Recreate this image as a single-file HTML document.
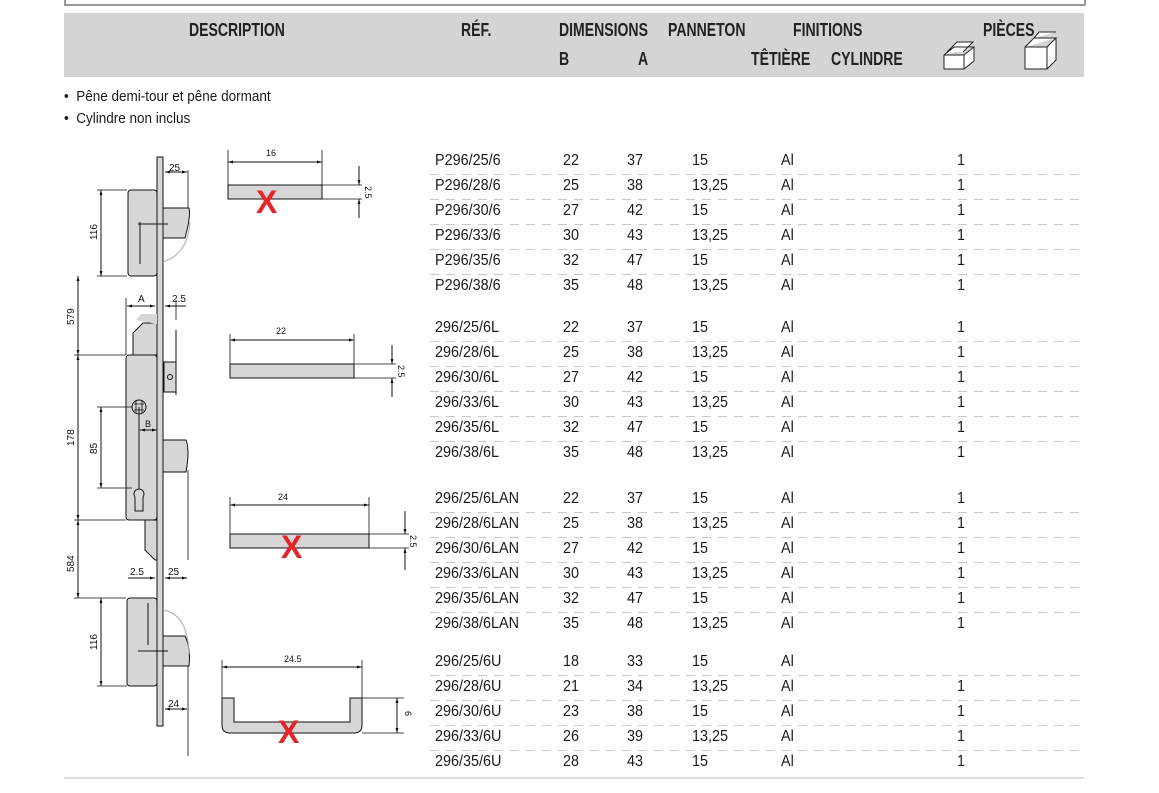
<!DOCTYPE html>
<html><head><meta charset="utf-8"><style>
body{margin:0;background:#fff;width:1159px;height:793px;overflow:hidden;position:relative;font-family:"Liberation Sans Narrow","Liberation Sans",sans-serif;color:#1a1a1a}
.t{position:absolute;white-space:nowrap}
.h{font-weight:bold;font-size:18px;transform:scaleX(.78);transform-origin:left top;color:#222}
.r{font-size:16px;font-family:"Liberation Sans",sans-serif;transform:scaleX(.9);transform-origin:left top}
.d{position:absolute;left:430px;width:652px;height:1px;background:repeating-linear-gradient(90deg,#c8c8c8 0 9px,transparent 9px 16px)}
</style></head><body>
<div style="position:absolute;left:64px;top:-4px;width:1018px;height:8px;border:2px solid #999;border-top:none"></div>
<div style="position:absolute;left:64px;top:13px;width:1020px;height:64px;background:#d4d4d4"></div>
<div class="t h" style="left:189px;top:20px">DESCRIPTION</div>
<div class="t h" style="left:461px;top:20px">RÉF.</div>
<div class="t h" style="left:559px;top:20px">DIMENSIONS</div>
<div class="t h" style="left:668px;top:20px">PANNETON</div>
<div class="t h" style="left:793px;top:20px">FINITIONS</div>
<div class="t h" style="left:983px;top:20px">PIÈCES</div>
<div class="t h" style="left:559px;top:49px">B</div>
<div class="t h" style="left:638px;top:49px">A</div>
<div class="t h" style="left:751px;top:49px">TÊTIÈRE</div>
<div class="t h" style="left:831px;top:49px">CYLINDRE</div>
<svg style="position:absolute;left:0;top:0" width="1159" height="793">
<g fill="#fff" stroke="#222" stroke-width="1">
<path d="M944 55h20v14h-20z M964 55l10-8v14l-10 8 M944 55l10-8h20 M947 52l10-10h16l-10 10"/>
<path d="M1025 47h22v22h-22z M1047 47l9-9v22l-9 9 M1025 47l9-9h22 M1034 38l5-6h17"/>
</g></svg>
<div class="t r" style="left:64px;top:88px;font-size:15px">•&nbsp; Pêne demi-tour et pêne dormant</div>
<div class="t r" style="left:64px;top:110px;font-size:15px">•&nbsp; Cylindre non inclus</div>

<svg style="position:absolute;left:0;top:0" width="1159" height="793" font-family="Liberation Sans,sans-serif" font-size="10">
<defs><marker id="a" viewBox="0 0 10 10" refX="10" refY="5" markerWidth="7" markerHeight="5" orient="auto-start-reverse"><path d="M0 2L10 5L0 8z" fill="#111"/></marker></defs>
<g stroke="#111" stroke-width="1">
<rect x="157" y="157" width="6" height="569" fill="#d6d6d6"/>
<rect x="128" y="190" width="29" height="86" rx="3" fill="#d6d6d6"/>
<path d="M163 208h26q2 8-4 30h-22z" fill="#d6d6d6"/>
<path d="M140 222v42 M138 224h30" />
<path d="M163 262 q25 -8 27 -40" fill="none" stroke="#aaa"/>
<path d="M133 355v-22l10-10h14v32z" fill="#d6d6d6"/>
<path d="M136 320l5-6h16v10z" fill="#d6d6d6" stroke="none"/>
<rect x="126" y="355" width="31" height="165" rx="3" fill="#d6d6d6"/>
<rect x="164" y="362" width="12" height="30" fill="#d6d6d6"/>
<circle cx="170" cy="377" r="2.5" fill="none"/>
<line x1="176" y1="330" x2="176" y2="395"/>
<circle cx="139" cy="407" r="7" fill="#d6d6d6"/>
<path d="M134 404h10M134 410h10M136 401v12M142 401v12" stroke-width=".8"/>
<path d="M139 407v95" />
<path d="M135 497a5 5 0 1 1 8 0v14h-8z" fill="#d6d6d6"/>
<path d="M163 440h23q4 10 0 32h-23z" fill="#d6d6d6"/>
<path d="M145 520v30l10 10h2v-40z" fill="#d6d6d6"/>
<rect x="127" y="598" width="30" height="88" rx="3" fill="#d6d6d6"/>
<path d="M163 636h22q6 12 4 30h-26z" fill="#d6d6d6"/>
<path d="M148 603v42 M138 651h30"/>
<path d="M163 610 q25 4 26 44" fill="none" stroke="#aaa"/>
<path d="M97 190h30M97 276h30M74 355h52M74 520h52M74 598h52M97 686h30M97 407h35M97 488h35" stroke-width=".8"/>
<path d="M188 170v38M188 470v90M188 666v90M126 298v57M176 300v20" stroke-width=".8"/>
<line x1="101" y1="190" x2="101" y2="276" marker-start="url(#a)" marker-end="url(#a)"/>
<line x1="78" y1="276" x2="78" y2="355" marker-start="url(#a)" marker-end="url(#a)"/>
<line x1="78" y1="355" x2="78" y2="520" marker-start="url(#a)" marker-end="url(#a)"/>
<line x1="101" y1="407" x2="101" y2="488" marker-start="url(#a)" marker-end="url(#a)"/>
<line x1="78" y1="520" x2="78" y2="598" marker-start="url(#a)" marker-end="url(#a)"/>
<line x1="101" y1="598" x2="101" y2="686" marker-start="url(#a)" marker-end="url(#a)"/>
<line x1="165" y1="172" x2="187" y2="172" marker-start="url(#a)" marker-end="url(#a)"/>
<line x1="127" y1="306" x2="155" y2="306" marker-start="url(#a)" marker-end="url(#a)"/>
<line x1="165" y1="306" x2="186" y2="306" marker-start="url(#a)"/>
<line x1="140" y1="430" x2="157" y2="430" marker-start="url(#a)" marker-end="url(#a)"/>
<line x1="128" y1="578" x2="155" y2="578" marker-end="url(#a)"/>
<line x1="165" y1="578" x2="187" y2="578" marker-start="url(#a)" marker-end="url(#a)"/>
<line x1="165" y1="709" x2="187" y2="709" marker-start="url(#a)" marker-end="url(#a)"/>
<rect x="228" y="185" width="94" height="14" fill="#d6d6d6"/>
<path d="M228 150v35M322 150v35M322 185h40M322 199h40" stroke-width=".8"/>
<line x1="228" y1="162" x2="322" y2="162" marker-start="url(#a)" marker-end="url(#a)"/>
<line x1="359" y1="166" x2="359" y2="185" marker-end="url(#a)"/><line x1="359" y1="218" x2="359" y2="199" marker-end="url(#a)"/>
<rect x="230" y="364" width="124" height="14" fill="#d6d6d6"/>
<path d="M230 334v30M354 334v30M354 364h42M354 378h42" stroke-width=".8"/>
<line x1="230" y1="340" x2="354" y2="340" marker-start="url(#a)" marker-end="url(#a)"/>
<line x1="392" y1="345" x2="392" y2="364" marker-end="url(#a)"/><line x1="392" y1="397" x2="392" y2="378" marker-end="url(#a)"/>
<rect x="230" y="534" width="139" height="14" fill="#d6d6d6"/>
<path d="M230 497v37M369 497v37M369 534h40M369 548h40" stroke-width=".8"/>
<line x1="230" y1="505" x2="369" y2="505" marker-start="url(#a)" marker-end="url(#a)"/>
<line x1="405" y1="511" x2="405" y2="534" marker-end="url(#a)"/><line x1="405" y1="570" x2="405" y2="548" marker-end="url(#a)"/>
<path d="M222 698h12v24h116v-24h12v27q0 8-8 8h-124q-8 0-8-8z" fill="#d6d6d6"/>
<path d="M222 660v38M362 660v38M362 698h42M362 733h42" stroke-width=".8"/>
<line x1="222" y1="667" x2="362" y2="667" marker-start="url(#a)" marker-end="url(#a)"/>
<line x1="397" y1="698" x2="397" y2="733" marker-start="url(#a)" marker-end="url(#a)"/>
</g>
<g fill="#111">
<text x="169" y="171">25</text><text x="138" y="302">A</text><text x="172" y="302">2.5</text>
<text x="145" y="427" font-size="9">B</text><text x="130" y="575">2.5</text><text x="168" y="575">25</text><text x="168" y="707">24</text>
<text transform="translate(97,240) rotate(-90)">116</text><text transform="translate(74,325) rotate(-90)">579</text>
<text transform="translate(74,446) rotate(-90)">178</text><text transform="translate(97,454) rotate(-90)">85</text>
<text transform="translate(74,572) rotate(-90)">584</text><text transform="translate(97,650) rotate(-90)">116</text>
<text x="266" y="156" font-size="9">16</text><text x="276" y="334" font-size="9">22</text><text x="278" y="500" font-size="9">24</text><text x="284" y="662" font-size="9">24.5</text>
<text transform="translate(365,186) rotate(90)" font-size="9">2.5</text><text transform="translate(398,365) rotate(90)" font-size="9">2.5</text>
<text transform="translate(410,535) rotate(90)" font-size="9">2.5</text><text transform="translate(405,711) rotate(90)" font-size="9">6</text>
</g>
<g fill="#e3242b" font-weight="bold" font-size="32" font-family="Liberation Sans,sans-serif">
<text x="256" y="213">X</text><text x="281" y="558">X</text><text x="278" y="743">X</text>
</g>
<line x1="64" y1="778" x2="1084" y2="778" stroke="#ddd" stroke-width="2"/>
</svg>

<div id="rows"></div>
<script>
const g=[[152,[["P296/25/6",22,37,"15",1],["P296/28/6",25,38,"13,25",1],["P296/30/6",27,42,"15",1],["P296/33/6",30,43,"13,25",1],["P296/35/6",32,47,"15",1],["P296/38/6",35,48,"13,25",1]]],
[319,[["296/25/6L",22,37,"15",1],["296/28/6L",25,38,"13,25",1],["296/30/6L",27,42,"15",1],["296/33/6L",30,43,"13,25",1],["296/35/6L",32,47,"15",1],["296/38/6L",35,48,"13,25",1]]],
[490,[["296/25/6LAN",22,37,"15",1],["296/28/6LAN",25,38,"13,25",1],["296/30/6LAN",27,42,"15",1],["296/33/6LAN",30,43,"13,25",1],["296/35/6LAN",32,47,"15",1],["296/38/6LAN",35,48,"13,25",1]]],
[653,[["296/25/6U",18,33,"15",""],["296/28/6U",21,34,"13,25",1],["296/30/6U",23,38,"15",1],["296/33/6U",26,39,"13,25",1],["296/35/6U",28,43,"15",1]]]];
let h="";
for(const [y0,rs] of g){rs.forEach((r,i)=>{const y=y0+i*25;
h+=`<div class="t r" style="left:435px;top:${y}px">${r[0]}</div><div class="t r" style="left:563px;top:${y}px">${r[1]}</div><div class="t r" style="left:627px;top:${y}px">${r[2]}</div><div class="t r" style="left:692px;top:${y}px">${r[3]}</div><div class="t r" style="left:781px;top:${y}px">Al</div><div class="t r" style="left:957px;top:${y}px">${r[4]}</div>`;
if(i<rs.length-1)h+=`<div class="d" style="top:${y+22}px"></div>`;});}
document.getElementById("rows").innerHTML=h;
</script>
</body></html>
